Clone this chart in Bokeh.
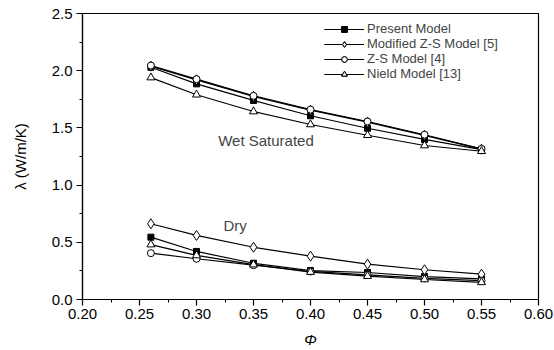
from bokeh.plotting import figure
from bokeh.models import Range1d, Label, Legend
from bokeh.embed import file_html
from bokeh.resources import INLINE

phi = [0.26, 0.30, 0.35, 0.40, 0.45, 0.50, 0.55]

wet_present = [2.03, 1.885, 1.74, 1.606, 1.497, 1.399, 1.310]
wet_modified = [2.04, 1.92, 1.775, 1.655, 1.55, 1.435, 1.314]
wet_zs = [2.045, 1.926, 1.78, 1.66, 1.556, 1.44, 1.317]
wet_nield = [1.94, 1.79, 1.643, 1.53, 1.436, 1.346, 1.296]

dry_present = [0.545, 0.42, 0.317, 0.253, 0.236, 0.2, 0.18]
dry_modified = [0.662, 0.56, 0.457, 0.379, 0.309, 0.26, 0.221]
dry_zs = [0.405, 0.356, 0.30, 0.245, 0.215, 0.185, 0.165]
dry_nield = [0.48, 0.385, 0.305, 0.24, 0.204, 0.175, 0.15]

labels = ["Present Model", "Modified Z-S Model [5]", "Z-S Model [4]", "Nield Model [13]"]

FONT = "Liberation Sans"

p = figure(width=554, height=350, output_backend="svg", toolbar_location=None,
           x_range=Range1d(0.2, 0.6), y_range=Range1d(0, 2.5),
           min_border_left=82, min_border_right=16, min_border_top=13, min_border_bottom=51)
p.grid.visible = False
p.outline_line_color = "black"
p.outline_line_width = 1.2
p.background_fill_color = "white"
p.border_fill_color = "white"

series = [
    (wet_present, dry_present, "square", "black", 6),
    (wet_modified, dry_modified, "diamond", "white", 10),
    (wet_zs, dry_zs, "circle", "white", 7),
    (wet_nield, dry_nield, "triangle", "white", 8),
]

for i, (lab, (wet, dry, marker, fill, size)) in enumerate(zip(labels, series)):
    rs = []
    for ys in (wet, dry):
        l = p.line(phi, ys, line_color="black", line_width=1.2)
        s = p.scatter(phi, ys, marker=marker, size=size, fill_color=fill,
                      line_color="black", line_width=1)
        rs.extend([l, s])
    legend = Legend(items=[(lab, rs)], location=(242, 263 - 15 * i), border_line_color=None,
                    background_fill_alpha=0, glyph_width=40, glyph_height=14,
                    label_height=14, spacing=0, padding=0, margin=0,
                    label_standoff=3, label_text_font=FONT, label_text_font_size="13px")
    p.add_layout(legend, "center")

p.add_layout(Label(x=0.319, y=1.39, text="Wet Saturated", text_font=FONT,
                   text_font_size="15px", text_baseline="middle"))
p.add_layout(Label(x=0.3237, y=0.647, text="Dry", text_font=FONT,
                   text_font_size="15px", text_baseline="middle"))

for ax in (p.xaxis[0], p.yaxis[0]):
    ax.axis_line_width = 1.2
    ax.major_tick_line_width = 1.2
    ax.minor_tick_line_width = 1
    ax.major_tick_out = 6
    ax.major_tick_in = 0
    ax.minor_tick_out = 3
    ax.minor_tick_in = 0
    ax.major_label_text_font = FONT
    ax.major_label_text_font_size = "15px"
    ax.major_label_text_color = "black"
    ax.axis_label_text_font = FONT
    ax.axis_label_text_font_size = "15px"
    ax.axis_label_text_font_style = "normal"
    ax.axis_label_text_color = "black"

p.xaxis.ticker = [0.2, 0.25, 0.3, 0.35, 0.4, 0.45, 0.5, 0.55, 0.6]
p.xaxis.ticker.minor_ticks = [0.225 + 0.05 * i for i in range(8)]
p.xaxis.major_label_overrides = {0.2: "0.20", 0.25: "0.25", 0.3: "0.30", 0.35: "0.35",
                                 0.4: "0.40", 0.45: "0.45", 0.5: "0.50", 0.55: "0.55", 0.6: "0.60"}
p.xaxis.major_label_standoff = 3
p.xaxis.axis_label = "Φ"
p.xaxis.axis_label_text_font_style = "italic"
p.xaxis.axis_label_standoff = 9

p.yaxis.ticker = [0.0, 0.5, 1.0, 1.5, 2.0, 2.5]
p.yaxis.ticker.minor_ticks = [0.25, 0.75, 1.25, 1.75, 2.25]
p.yaxis.major_label_overrides = {0.0: "0.0", 0.5: "0.5", 1.0: "1.0", 1.5: "1.5", 2.0: "2.0", 2.5: "2.5"}
p.yaxis.major_label_standoff = 4
p.yaxis.axis_label = "λ (W/m/K)"
p.yaxis.axis_label_standoff = 20

open("out.html", "w").write(file_html(p, INLINE))
